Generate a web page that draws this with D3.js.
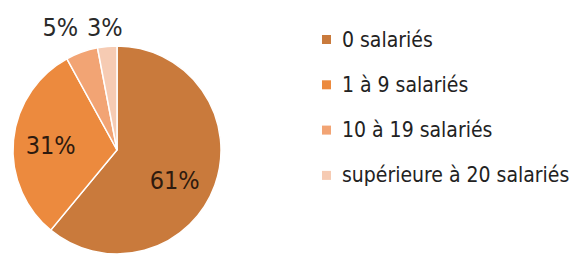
<!DOCTYPE html>
<html lang="fr">
<head>
<meta charset="UTF-8">
<title>Salariés</title>
<script src="https://d3js.org/d3.v7.min.js"></script>
<style>
    body { margin: 0; background: #fff; }
    svg text { font-family: "DejaVu Sans Condensed", "DejaVu Sans", Roboto, sans-serif; font-stretch: condensed; }
</style>
</head>
<body>
<div id="chart"></div>
<script>
const categories = ['0 salariés', '1 à 9 salariés', '10 à 19 salariés', 'supérieure à 20 salariés'];
const values = [61, 31, 5, 3];
const colors = ['#c97a3c', '#ec8a3e', '#f2a474', '#f6cbb3'];

const width = 575, height = 254;
const cx = 117, cy = 150, r = 104;

const svg = d3.select('#chart').append('svg')
    .attr('width', width)
    .attr('height', height);

const pie = d3.pie().sort(null).value(d => d);
const arcs = pie(values);
const arc = d3.arc().innerRadius(0).outerRadius(r);

const g = svg.append('g').attr('transform', `translate(${cx},${cy})`);

g.selectAll('path')
    .data(arcs)
    .join('path')
    .attr('d', arc)
    .attr('fill', (d, i) => colors[i])
    .attr('stroke', '#fff')
    .attr('stroke-width', 1.5);

// inside labels for the big slices, outside for the two small ones
const inner = d3.arc().innerRadius(r * 0.64).outerRadius(r * 0.64);
const outer = d3.arc().innerRadius(r * 1.24).outerRadius(r * 1.24);
const nudge = [[-5, 7], [0, 1], [-13, -2], [0, 5]]; // keep 5% and 3% apart

g.selectAll('text.lbl')
    .data(arcs)
    .join('text')
    .attr('class', 'lbl')
    .attr('transform', (d, i) => {
        const p = (i < 2 ? inner : outer).centroid(d);
        return `translate(${p[0] + nudge[i][0]},${p[1] + nudge[i][1]})`;
    })
    .attr('text-anchor', 'middle')
    .attr('dy', '0.36em')
    .attr('font-size', 25)
    .attr('fill', (d, i) => i < 2 ? '#2e1a0e' : '#2a2a2a')
    .text(d => d.data + '%');

// legend
const legend = svg.append('g').attr('transform', 'translate(322,39)');
const row = legend.selectAll('g')
    .data(categories)
    .join('g')
    .attr('transform', (d, i) => `translate(0,${i * 45.3})`);

row.append('rect')
    .attr('x', 0).attr('y', -4)
    .attr('width', 9).attr('height', 9)
    .attr('fill', (d, i) => colors[i]);

row.append('text')
    .attr('x', 20)
    .attr('dy', '0.36em')
    .attr('font-size', 21)
    .attr('fill', '#222')
    .text(d => d);
</script>
</body>
</html>
